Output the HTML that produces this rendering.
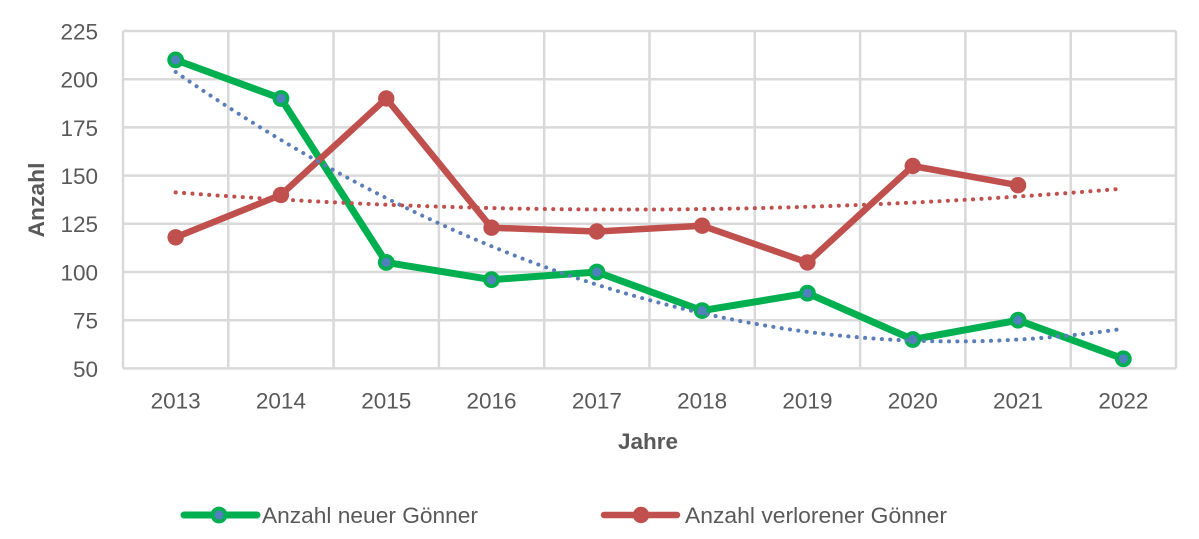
<!DOCTYPE html>
<html>
<head>
<meta charset="utf-8">
<style>
html,body{margin:0;padding:0;background:#fff;}
svg{display:block;}
text{font-family:"Liberation Sans",Arial,sans-serif;fill:#595959;}
</style>
</head>
<body>
<svg width="1199" height="539" viewBox="0 0 1199 539" xmlns="http://www.w3.org/2000/svg">
<rect width="1199" height="539" fill="#fff"/>
<!-- gridlines -->
<g stroke="#D9D9D9" stroke-width="2.5" fill="none">
<line x1="123" y1="368.4" x2="1176" y2="368.4"/>
<line x1="123" y1="320.2" x2="1176" y2="320.2"/>
<line x1="123" y1="272.0" x2="1176" y2="272.0"/>
<line x1="123" y1="223.8" x2="1176" y2="223.8"/>
<line x1="123" y1="175.6" x2="1176" y2="175.6"/>
<line x1="123" y1="127.4" x2="1176" y2="127.4"/>
<line x1="123" y1="79.2" x2="1176" y2="79.2"/>
<line x1="123" y1="31.0" x2="1176" y2="31.0"/>
<line x1="123" y1="31" x2="123" y2="368.4"/>
<line x1="228.3" y1="31" x2="228.3" y2="368.4"/>
<line x1="333.6" y1="31" x2="333.6" y2="368.4"/>
<line x1="438.9" y1="31" x2="438.9" y2="368.4"/>
<line x1="544.2" y1="31" x2="544.2" y2="368.4"/>
<line x1="649.5" y1="31" x2="649.5" y2="368.4"/>
<line x1="754.8" y1="31" x2="754.8" y2="368.4"/>
<line x1="860.1" y1="31" x2="860.1" y2="368.4"/>
<line x1="965.4" y1="31" x2="965.4" y2="368.4"/>
<line x1="1070.7" y1="31" x2="1070.7" y2="368.4"/>
<line x1="1176" y1="31" x2="1176" y2="368.4"/>
</g>
<!-- y labels -->
<g font-size="22.5" text-anchor="end">
<text x="98" y="376.8">50</text>
<text x="98" y="328.6">75</text>
<text x="98" y="280.4">100</text>
<text x="98" y="232.2">125</text>
<text x="98" y="184.0">150</text>
<text x="98" y="135.8">175</text>
<text x="98" y="87.6">200</text>
<text x="98" y="39.4">225</text>
</g>
<!-- x labels -->
<g font-size="22.5" text-anchor="middle">
<text x="175.65" y="408.5">2013</text>
<text x="280.95" y="408.5">2014</text>
<text x="386.25" y="408.5">2015</text>
<text x="491.55" y="408.5">2016</text>
<text x="596.85" y="408.5">2017</text>
<text x="702.15" y="408.5">2018</text>
<text x="807.45" y="408.5">2019</text>
<text x="912.75" y="408.5">2020</text>
<text x="1018.05" y="408.5">2021</text>
<text x="1123.35" y="408.5">2022</text>
</g>
<!-- axis titles -->
<text x="648" y="449" font-size="22.5" font-weight="bold" text-anchor="middle" textLength="60" lengthAdjust="spacingAndGlyphs">Jahre</text>
<text transform="translate(44,200) rotate(-90)" font-size="22.5" font-weight="bold" text-anchor="middle" textLength="75" lengthAdjust="spacingAndGlyphs">Anzahl</text>

<!-- green series -->
<polyline fill="none" stroke="#00B050" stroke-width="7" stroke-linejoin="round" points="175.65,59.9 280.95,98.5 386.25,262.4 491.55,279.7 596.85,272.0 702.15,310.6 807.45,293.2 912.75,339.5 1018.05,320.2 1123.35,358.8"/>
<g fill="#4F81BD" stroke="#00B050" stroke-width="3.8">
<circle cx="175.65" cy="59.9" r="6.5"/>
<circle cx="280.95" cy="98.5" r="6.5"/>
<circle cx="386.25" cy="262.4" r="6.5"/>
<circle cx="491.55" cy="279.7" r="6.5"/>
<circle cx="596.85" cy="272.0" r="6.5"/>
<circle cx="702.15" cy="310.6" r="6.5"/>
<circle cx="807.45" cy="293.2" r="6.5"/>
<circle cx="912.75" cy="339.5" r="6.5"/>
<circle cx="1018.05" cy="320.2" r="6.5"/>
<circle cx="1123.35" cy="358.8" r="6.5"/>
</g>
<!-- red series -->
<polyline fill="none" stroke="#C0504D" stroke-width="6.5" stroke-linejoin="round" points="175.65,237.3 280.95,194.9 386.25,98.5 491.55,227.7 596.85,231.5 702.15,225.7 807.45,262.4 912.75,166.0 1018.05,185.2"/>
<g fill="#C0504D">
<circle cx="175.65" cy="237.3" r="8.2"/>
<circle cx="280.95" cy="194.9" r="8.2"/>
<circle cx="386.25" cy="98.5" r="8.2"/>
<circle cx="491.55" cy="227.7" r="8.2"/>
<circle cx="596.85" cy="231.5" r="8.2"/>
<circle cx="702.15" cy="225.7" r="8.2"/>
<circle cx="807.45" cy="262.4" r="8.2"/>
<circle cx="912.75" cy="166.0" r="8.2"/>
<circle cx="1018.05" cy="185.2" r="8.2"/>
</g>
<!-- trendlines -->
<path d="M175.65,71.97 Q649.5,399.96 1123.35,328.66" fill="none" stroke="#5B7DB8" stroke-width="4" stroke-linecap="round" stroke-dasharray="0.1 8.3"/>
<path d="M175.65,192.41 Q649.5,228.52 1123.35,188.59" fill="none" stroke="#C0504D" stroke-width="4" stroke-linecap="round" stroke-dasharray="0.1 8.3"/>

<!-- legend -->
<line x1="184" y1="515" x2="257" y2="515" stroke="#00B050" stroke-width="7" stroke-linecap="round"/>
<circle cx="219" cy="515" r="6.5" fill="#4F81BD" stroke="#00B050" stroke-width="3.8"/>
<text x="262" y="523" font-size="22.5" textLength="216" lengthAdjust="spacingAndGlyphs">Anzahl neuer Gönner</text>
<line x1="604" y1="515" x2="677" y2="515" stroke="#C0504D" stroke-width="6.5" stroke-linecap="round"/>
<circle cx="641" cy="515" r="8.2" fill="#C0504D"/>
<text x="685" y="523" font-size="22.5" textLength="262" lengthAdjust="spacingAndGlyphs">Anzahl verlorener Gönner</text>
</svg>
</body>
</html>
